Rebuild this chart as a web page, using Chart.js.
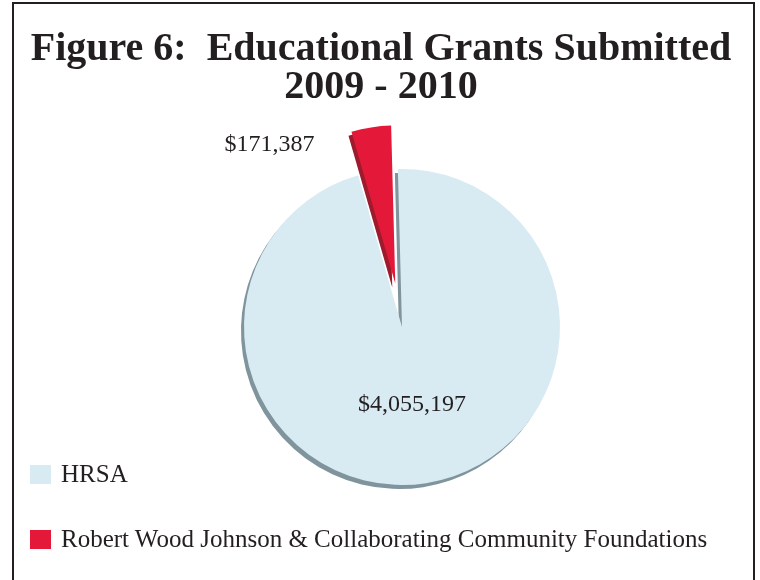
<!DOCTYPE html>
<html>
<head>
<meta charset="utf-8">
<script src="https://cdn.jsdelivr.net/npm/chart.js@4.4.1/dist/chart.umd.min.js"></script>
<style>
  html, body { margin: 0; padding: 0; background: #fff; overflow: hidden; }
  #wrap { position: relative; width: 760px; height: 580px; }
  #frame { position: absolute; left: 12px; top: 2px; width: 739px; height: 600px; border: 2px solid #231f20; }
  canvas { position: absolute; left: 0; top: 0; }
  .title { position: absolute; left: 0; width: 762px; text-align: center; font: bold 40px "Liberation Serif", serif; line-height: 38px; color: #231f20; white-space: pre; }
  .legend-item { position: absolute; left: 30px; height: 24px; font: 25px "Liberation Serif", serif; line-height: 24px; color: #231f20; white-space: nowrap; }
  .legend-item span.box { position: absolute; left: 0; width: 21px; height: 19px; }
  .legend-item span.txt { position: absolute; left: 31px; top: 0; }
</style>
</head>
<body>
<div id="wrap">
  <div id="frame"></div>
  <canvas id="grantsChart" width="760" height="580"></canvas>
  <div class="title" id="title1" style="top:28px"></div>
  <div class="title" id="title2" style="top:66px"></div>
  <div id="legend"></div>
</div>
<script>
// ====== Datos ======
const categories = ['HRSA', 'Robert Wood Johnson & Collaborating Community Foundations'];
const amounts = [4055197, 171387];
const valueLabels = ['$4,055,197', '$171,387'];
const titleLines = ['Figure 6:  Educational Grants Submitted', '2009 - 2010'];

// ====== Estilos ======
const sliceColors = ['#d9ebf2', '#e4193a'];
const shadowColors = ['#7f949c', '#9c1b2c'];
const explode = [0, 44];

document.getElementById('title1').textContent = titleLines[0];
document.getElementById('title2').textContent = titleLines[1];

// legend (html)
const legendTops = [462, 527];
const legend = document.getElementById('legend');
categories.forEach((cat, i) => {
  const item = document.createElement('div');
  item.className = 'legend-item';
  item.style.top = legendTops[i] + 'px';
  item.innerHTML = '<span class="box" style="top:3px;background:' + sliceColors[i] + '"></span><span class="txt"></span>';
  item.querySelector('.txt').textContent = cat;
  legend.appendChild(item);
});

// draw arcs with shadow + exploded slice
const explodedPie = {
  id: 'explodedPie',
  beforeDatasetsDraw(chart) {
    const ctx = chart.ctx;
    const meta = chart.getDatasetMeta(0);
    meta.data.forEach((arc, i) => {
      const {startAngle, endAngle} = arc.getProps(['startAngle', 'endAngle'], true);
      const mid = (startAngle + endAngle) / 2;
      ctx.save();
      ctx.translate(Math.cos(mid) * explode[i], Math.sin(mid) * explode[i]);
      ctx.shadowColor = shadowColors[i];
      ctx.shadowOffsetX = -3;
      ctx.shadowOffsetY = 4;
      ctx.shadowBlur = 0;
      arc.draw(ctx);
      ctx.restore();
    });
    return false;
  },
  afterDraw(chart) {
    const ctx = chart.ctx;
    const meta = chart.getDatasetMeta(0);
    ctx.save();
    ctx.font = '24px "Liberation Serif", serif';
    ctx.fillStyle = '#231f20';
    ctx.textBaseline = 'middle';
    meta.data.forEach((arc, i) => {
      if (explode[i] > 0) {
        // label outside, left of the pulled slice
        const {x, y, startAngle, endAngle, outerRadius} = arc.getProps(['x', 'y', 'startAngle', 'endAngle', 'outerRadius'], true);
        const mid = (startAngle + endAngle) / 2;
        const cx = x + Math.cos(mid) * explode[i] + Math.cos(startAngle) * outerRadius;
        const cy = y + Math.sin(mid) * explode[i] + Math.sin(startAngle) * outerRadius;
        ctx.textAlign = 'right';
        ctx.fillText(valueLabels[i], cx - 37, cy + 13);
      } else {
        const p = arc.tooltipPosition();
        ctx.textAlign = 'center';
        ctx.fillText(valueLabels[i], p.x - 2, p.y);
      }
    });
    ctx.restore();
  }
};

const ctx = document.getElementById('grantsChart').getContext('2d');
new Chart(ctx, {
  type: 'pie',
  data: {
    labels: categories,
    datasets: [{
      data: amounts,
      backgroundColor: sliceColors,
      borderWidth: 0
    }]
  },
  options: {
    responsive: false,
    animation: false,
    rotation: -1.5,
    layout: { padding: { left: 244, right: 200, top: 169, bottom: 95 } },
    plugins: {
      legend: { display: false },
      title: { display: false },
      tooltip: { enabled: false }
    }
  },
  plugins: [explodedPie]
});
</script>
</body>
</html>
